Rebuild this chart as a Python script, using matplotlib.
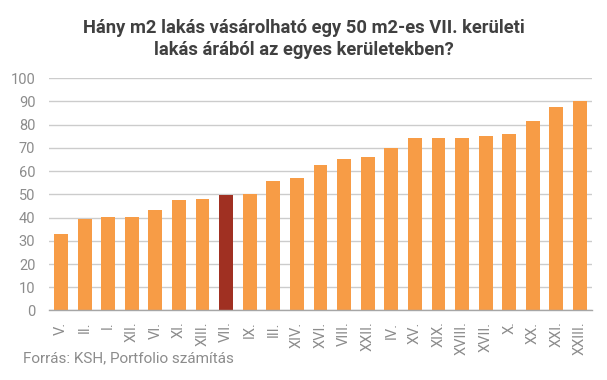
"""
Hány m2 lakás vásárolható egy 50 m2-es VII. kerületi lakás árából.
"""

import matplotlib
matplotlib.use('Agg')
import matplotlib.pyplot as plt

# * Kerületek és értékek
districts = ['V.', 'II.', 'I.', 'XII.', 'VI.', 'XI.', 'XIII.', 'VII.', 'IX.',
             'III.', 'XIV.', 'XVI.', 'VIII.', 'XXII.', 'IV.', 'XV.', 'XIX.',
             'XVIII.', 'XVII.', 'X.', 'XX.', 'XXI.', 'XXIII.']
values = [33.0, 39.4, 40.2, 40.2, 43.2, 47.5, 48.0, 49.7, 50.1,
          55.8, 57.0, 62.6, 65.2, 66.1, 70.0, 74.3, 74.3,
          74.3, 75.1, 76.0, 81.6, 87.6, 90.2]
highlight = 'VII.'
yticks = list(range(0, 101, 10))

plt.rcParams['font.family'] = ['Roboto', 'DejaVu Sans']

ORANGE = '#F79C46'
DARK = '#A03022'
GREY = '#8c8c8c'

fig = plt.figure(figsize=(6.07, 3.8), dpi=100)
ax = fig.add_axes([0.081, 0.183, 0.894, 0.611])

colors = [DARK if d == highlight else ORANGE for d in districts]
ax.bar(range(len(districts)), values, width=0.59, color=colors, zorder=3)

ax.set_xlim(-0.5, len(districts) - 0.5)
ax.set_ylim(0, 100)
ax.set_yticks(yticks)
ax.set_xticks(range(len(districts)))
ax.set_xticklabels(districts, rotation=90, va='top')
ax.tick_params(axis='both', length=0, colors=GREY, labelsize=10.5)
ax.tick_params(axis='x', pad=8)
ax.tick_params(axis='y', pad=10)

ax.grid(axis='y', color='#cccccc', linewidth=1, zorder=0)
for side in ['top', 'right', 'left']:
    ax.spines[side].set_visible(False)
ax.spines['bottom'].set_color('#a6a6a6')
ax.spines['bottom'].set_linewidth(1)
ax.spines['bottom'].set_zorder(4)

fig.text(0.501, 0.95,
         'Hány m2 lakás vásárolható egy 50 m2-es VII. kerületi\nlakás árából az egyes kerületekben?',
         ha='center', va='top', fontsize=13.2, fontweight='bold',
         color='#404040', linespacing=1.3)

fig.text(0.038, 0.058, 'Forrás: KSH, Portfolio számítás',
         ha='left', va='center', fontsize=11, color=GREY)

fig.savefig('out.png', dpi=100)
